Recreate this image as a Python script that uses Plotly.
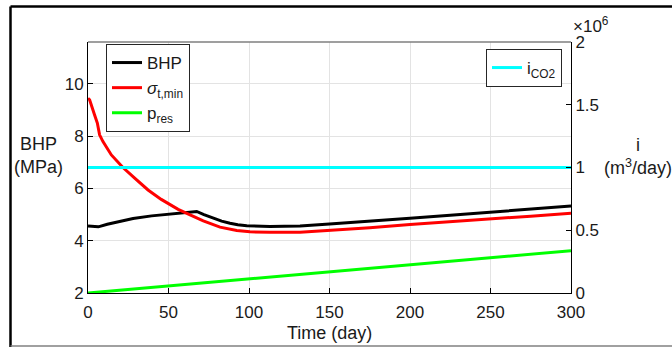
import plotly.graph_objects as go

# ---- data ----
t_bhp = [0, 3, 6.4, 12, 18.8, 28, 39.5, 50.9, 60, 67.5, 72, 77.8, 83, 88.2, 93, 98.6, 105, 113,
         122, 131.7, 150, 175, 200, 225, 250, 275, 300]
bhp = [4.56, 4.55, 4.53, 4.63, 4.73, 4.85, 4.95, 5.01, 5.06, 5.12, 5.00, 4.86, 4.75, 4.67, 4.61,
       4.57, 4.55, 4.54, 4.55, 4.56, 4.64, 4.74, 4.86, 4.97, 5.09, 5.21, 5.33]

t_sig = [0, 1.0, 4.1, 5.8, 7.2, 9.3, 14.5, 21.7, 29, 37.3, 45.5, 51, 56, 63.4, 71.6, 82, 92.4,
         100.6, 113, 131.7, 150, 175, 200, 225, 250, 275, 300]
sigma = [9.45, 9.39, 8.81, 8.50, 8.05, 7.79, 7.28, 6.80, 6.39, 5.94, 5.58, 5.38, 5.20, 4.99, 4.76,
         4.52, 4.39, 4.34, 4.32, 4.32, 4.39, 4.50, 4.62, 4.72, 4.83, 4.94, 5.05]

t_pres = [0, 300]
pres = [2.0, 3.62]

t_inj = [0, 300]
i_co2 = [1.0e6, 1.0e6]

x_ticks = [0, 50, 100, 150, 200, 250, 300]
y_ticks = [2, 4, 6, 8, 10]
y2_ticks = [0, 0.5e6, 1.0e6, 1.5e6, 2.0e6]
y2_text = ["0", "0.5", "1", "1.5", "2"]

FONT = "Liberation Sans, Arial, Helvetica, sans-serif"
TXT = "#1a1a1a"
FS_TICK = 17
FS_LEG = 17
FS_TITLE = 18

fig = go.Figure()
fig.add_trace(go.Scatter(x=t_bhp, y=bhp, mode="lines", name="BHP",
                         line=dict(color="#000000", width=3), legend="legend"))
fig.add_trace(go.Scatter(x=t_sig, y=sigma, mode="lines", name="<i>σ</i><sub>t,min</sub>",
                         line=dict(color="#ff0000", width=3), legend="legend"))
fig.add_trace(go.Scatter(x=t_pres, y=pres, mode="lines", name="p<sub>res</sub>",
                         line=dict(color="#00ff00", width=3), legend="legend"))
fig.add_trace(go.Scatter(x=t_inj, y=i_co2, mode="lines", name="i<sub>CO2</sub>",
                         line=dict(color="#00ffff", width=3), yaxis="y2", legend="legend2"))

W, H = 672, 347
L, R, T, B = 88, 571, 42, 293
pw, ph = R - L, B - T


def px(x):
    return (x - L) / pw


def py(y):
    return (B - y) / ph


axis_common = dict(ticks="inside", ticklen=5, tickcolor="#000", showline=True,
                   linecolor="#000", linewidth=1, zeroline=False,
                   tickfont=dict(size=FS_TICK, color=TXT))

fig.update_layout(
    width=W, height=H,
    margin=dict(l=L, r=W - R, t=T, b=H - B),
    paper_bgcolor="white", plot_bgcolor="white",
    font=dict(family=FONT, size=FS_TICK, color=TXT),
    xaxis=dict(range=[0, 300], tickvals=x_ticks, showgrid=True, gridcolor="#e3e3e3",
               gridwidth=1, ticklabelstandoff=4, **axis_common),
    yaxis=dict(range=[2, 11.6], tickvals=y_ticks, showgrid=True, gridcolor="#e3e3e3",
               gridwidth=1, **axis_common),
    yaxis2=dict(range=[0, 2e6], overlaying="y", side="right", tickvals=y2_ticks,
                ticktext=y2_text, showgrid=False, **axis_common),
    legend=dict(x=px(106), y=py(44), xanchor="left", yanchor="top",
                bgcolor="white", bordercolor="#262626", borderwidth=1,
                font=dict(size=FS_LEG, color=TXT), tracegroupgap=0),
    legend2=dict(x=px(562), y=py(49), xanchor="right", yanchor="top",
                 bgcolor="white", bordercolor="#262626", borderwidth=1,
                 font=dict(size=FS_LEG, color=TXT)),
    showlegend=True,
)

# axes box top edge
fig.add_shape(type="line", xref="paper", yref="paper", x0=0, x1=1, y0=1, y1=1,
              line=dict(color="#7f7f7f", width=1.5))
# outer frame
fig.add_shape(type="line", xref="paper", yref="paper", x0=px(10.5), x1=px(680),
              y0=py(6.5), y1=py(6.5), line=dict(color="#000", width=2.5))
fig.add_shape(type="line", xref="paper", yref="paper", x0=px(10.5), x1=px(10.5),
              y0=py(6.5), y1=py(350), line=dict(color="#000", width=2.5))
fig.add_shape(type="line", xref="paper", yref="paper", x0=px(10.5), x1=px(680),
              y0=py(346), y1=py(346), line=dict(color="#808080", width=1.5))

# titles
fig.add_annotation(xref="paper", yref="paper", x=0.5, y=py(333), text="Time (day)",
                   showarrow=False, xanchor="center", yanchor="middle",
                   font=dict(size=FS_TITLE, color=TXT))
fig.add_annotation(xref="paper", yref="paper", x=px(38), y=py(155.5), text="BHP<br>(MPa)",
                   showarrow=False, xanchor="center", yanchor="middle",
                   font=dict(size=FS_TITLE, color=TXT))
fig.add_annotation(xref="paper", yref="paper", x=px(638), y=py(156.5),
                   text="i<br>(m<sup>3</sup>/day)", showarrow=False,
                   xanchor="center", yanchor="middle", font=dict(size=FS_TITLE, color=TXT))
fig.add_annotation(xref="paper", yref="paper", x=px(571), y=py(38),
                   text="×10<sup>6</sup>", showarrow=False,
                   xanchor="left", yanchor="bottom", font=dict(size=FS_TICK, color=TXT))

fig.write_html("out.html")
